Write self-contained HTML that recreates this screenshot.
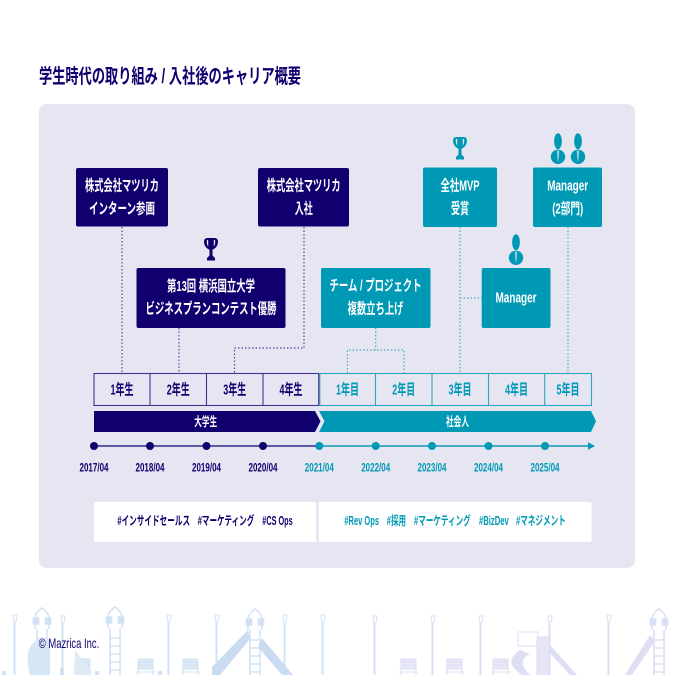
<!DOCTYPE html>
<html lang="ja"><head><meta charset="utf-8"><title>学生時代の取り組み / 入社後のキャリア概要</title>
<style>
html,body{margin:0;padding:0;background:#fff;width:675px;height:675px;overflow:hidden}
svg{display:block}
text{font-family:"Liberation Sans","Noto Sans CJK JP",sans-serif;font-weight:700;text-anchor:middle}
.n{fill:#10006f}.t{fill:#0099b5}.w{fill:#fff}
.b{font-size:15px}.d{font-size:12px}.g{font-size:12.5px}
.dn{stroke:#4f4a9a;stroke-width:1.2;stroke-dasharray:1.5 2;fill:none}
.dt{stroke:#48adc4;stroke-width:1.2;stroke-dasharray:1.5 2;fill:none}
</style></head><body>
<svg width="675" height="675" viewBox="0 0 675 675" xmlns="http://www.w3.org/2000/svg">
<defs>
<g id="trophy"><path d="M-3.500-11.500H3.500C5.800-11.500 7-10 7-8C7-4 4.500-.8 1.500 0.200V6L4 8.500V11H-4V8.500L-1.500 6V0.200C-4.500-.8-7-4-7-8C-7-10-5.800-11.500-3.500-11.500Z"/><path d="M-4-9.500C-4.500-7-4-4.500-2.800-3V-9.500ZM4-9.500C4.500-7 4-4.500 2.800-3V-9.500Z" fill="#e6e5f2"/></g>
<g id="person"><ellipse cx="0" cy="-8.300" rx="3.900" ry="8"/><circle cx="0" cy="7.300" r="7.200"/><path d="M-1.300 1h2.600L.7 9 0 12.500-.7 9z" fill="#8fcfdd"/></g>
<g id="post" fill="none"><path d="M-.5 10V70" stroke-width="2"/><path d="M-2 3h4l-.6 6h-2.800z" stroke-width="1"/></g>
<g id="bench" stroke-width="1"><rect x="0" y="0" width="15" height="10"/><path d="M0 3h15M0 6h15M0 10v12M15 10v12M-2 13h19" fill="none"/></g>
<g id="tower" fill="none" stroke-width="1.600"><path d="M-7 14V4C-7-3 0-7 0-7S7-3 7 4V14"/><path d="M-8.500 3h5v6h-5zM3.500 3h5v6h-5z" fill="#d0e1f4"/><path d="M-5 14V70M5 14V70M-5 24h10M-5 32h10M-5 40h10M-5 48h10M-5 56h10M-5 64h10"/></g>
</defs>
<g fill="#dbe8f6">
<g stroke="#d2e3f5">
<use href="#post" x="15" y="612"/><use href="#post" x="63" y="613"/>
<use href="#post" x="169" y="612"/><use href="#post" x="217" y="612"/>
<use href="#post" x="285" y="612"/><use href="#post" x="323" y="612"/>
<use href="#bench" x="138" y="659"/><use href="#bench" x="183" y="659"/><use href="#bench" x="75" y="659"/>
<use href="#tower" x="42" y="615"/><use href="#tower" x="115" y="614"/><use href="#tower" x="255" y="616"/>
</g>
<path d="M248 630 212 667v8h8l30-36z" fill="#cadcf2"/><path d="M262 638 293 675H282L258 647z" fill="#cadcf2"/>
<path d="M38 640C26 645 26 660 30 675H50V640z" fill="#d5e6f5"/>
<path d="M75 650 90 670v5H75z" fill="#dcebf6"/>
<rect x="60" y="668" width="4" height="7" fill="#cfe1f3"/><rect x="2" y="671" width="4" height="4" fill="#cfe1f3"/>
<rect x="95" y="671" width="4" height="4" fill="#cfe1f3"/><rect x="158" y="671" width="4" height="4" fill="#cfe1f3"/>
</g>
<g fill="#e8e8f7">
<g stroke="#dddef4">
<use href="#post" x="375" y="613"/><use href="#post" x="433" y="613"/>
<use href="#post" x="481" y="613"/><use href="#post" x="550" y="613"/><use href="#post" x="609" y="612"/>
<use href="#bench" x="401" y="659"/><use href="#bench" x="447" y="659"/><use href="#bench" x="493" y="659"/>
<use href="#tower" x="659" y="616"/>
<path d="M518 632h20v14h-20z" fill="none"/><rect x="537" y="637" width="12" height="38" fill="#e6e6f6"/>
</g>
<path d="M650 635 625 675h7l23-34z" fill="#dfdff4"/>
<path d="M550 645 577 675h-7l-22-24z" fill="#dfdff4"/>
<path d="M520 650C505 660 512 668 522 675h8C523 668 518 660 530 654z" fill="#dfdff4"/>
</g>
<rect x="39" y="104" width="596" height="464" rx="8" fill="#e6e5f2"/>
<text x="170" y="83" class="n" font-size="20" textLength="262" lengthAdjust="spacingAndGlyphs">学生時代の取り組み / 入社後のキャリア概要</text>
<path class="dn" d="M122 227V373M179 328V373M304 227V348H234.500V373"/>
<path class="dt" d="M375.700 328V350M347.500 373V350H404V373M460 227V373M460 298H482M568 227V373"/>
<rect x="76" y="168" width="92" height="58.500" rx="2" fill="#10006f"/>
<rect x="258" y="168" width="91" height="58.500" rx="2" fill="#10006f"/>
<rect x="136.500" y="268" width="149" height="60" rx="2" fill="#10006f"/>
<rect x="321" y="268" width="109.500" height="60" rx="2" fill="#0099b5"/>
<rect x="423" y="167.500" width="74" height="59.500" rx="2" fill="#0099b5"/>
<rect x="533" y="167.500" width="69" height="59.500" rx="2" fill="#0099b5"/>
<rect x="481.700" y="268" width="68.800" height="60" rx="2" fill="#0099b5"/>
<text class="b w" x="122" y="190.500" textLength="74" lengthAdjust="spacingAndGlyphs">株式会社マツリカ</text>
<text class="b w" x="122" y="213.500" textLength="66" lengthAdjust="spacingAndGlyphs">インターン参画</text>
<text class="b w" x="303.700" y="190.500" textLength="74" lengthAdjust="spacingAndGlyphs">株式会社マツリカ</text>
<text class="b w" x="303.700" y="213.500" textLength="18" lengthAdjust="spacingAndGlyphs">入社</text>
<text class="b w" x="211" y="291" textLength="88" lengthAdjust="spacingAndGlyphs">第13回 横浜国立大学</text>
<text class="b w" x="211" y="313.500" textLength="131" lengthAdjust="spacingAndGlyphs">ビジネスプランコンテスト優勝</text>
<text class="b w" x="375.500" y="290.500" textLength="92" lengthAdjust="spacingAndGlyphs">チーム / プロジェクト</text>
<text class="b w" x="375.500" y="313.500" textLength="56" lengthAdjust="spacingAndGlyphs">複数立ち上げ</text>
<text class="b w" x="460" y="190.500" textLength="39" lengthAdjust="spacingAndGlyphs">全社MVP</text>
<text class="b w" x="460" y="213.500" textLength="18" lengthAdjust="spacingAndGlyphs">受賞</text>
<text class="b w" x="567.700" y="190.500" textLength="41" lengthAdjust="spacingAndGlyphs">Manager</text>
<text class="b w" x="567.700" y="213.500" textLength="31" lengthAdjust="spacingAndGlyphs">(2部門)</text>
<text class="b w" x="516" y="302.500" textLength="41" lengthAdjust="spacingAndGlyphs">Manager</text>
<use href="#trophy" x="211" y="249.500" fill="#10006f"/>
<use href="#trophy" x="460" y="148.500" fill="#0099b5"/>
<use href="#person" x="516" y="250.500" fill="#0099b5"/>
<use href="#person" x="558" y="149.500" fill="#0099b5"/>
<use href="#person" x="578" y="149.500" fill="#0099b5"/>
<rect x="319.800" y="373.500" width="271.700" height="32" fill="none" stroke="#2fa6bf" stroke-width="1.100"/>
<path d="M375.500 373.500v32M432 373.500v32M488.500 373.500v32M544.700 373.500v32" stroke="#2fa6bf" stroke-width="1.100" fill="none"/>
<rect x="94" y="373.500" width="224.700" height="32" fill="none" stroke="#3d3590" stroke-width="1.100"/>
<path d="M150 373.500v32M206.500 373.500v32M263 373.500v32" stroke="#3d3590" stroke-width="1.100" fill="none"/>
<text class="b n" x="122" y="394.500" textLength="23" lengthAdjust="spacingAndGlyphs">1年生</text>
<text class="b n" x="178.300" y="394.500" textLength="23" lengthAdjust="spacingAndGlyphs">2年生</text>
<text class="b n" x="234.700" y="394.500" textLength="23" lengthAdjust="spacingAndGlyphs">3年生</text>
<text class="b n" x="291" y="394.500" textLength="23" lengthAdjust="spacingAndGlyphs">4年生</text>
<text class="b t" x="347.500" y="394.500" textLength="23" lengthAdjust="spacingAndGlyphs">1年目</text>
<text class="b t" x="403.700" y="394.500" textLength="23" lengthAdjust="spacingAndGlyphs">2年目</text>
<text class="b t" x="460" y="394.500" textLength="23" lengthAdjust="spacingAndGlyphs">3年目</text>
<text class="b t" x="516.500" y="394.500" textLength="23" lengthAdjust="spacingAndGlyphs">4年目</text>
<text class="b t" x="568" y="394.500" textLength="23" lengthAdjust="spacingAndGlyphs">5年目</text>
<path d="M94 411H315L320.500 421.300 315 432H94z" fill="#10006f"/>
<path d="M319 411H591L596 421.300 591 432H319L324.500 421.300z" fill="#0099b5"/>
<text class="g w" x="205.700" y="426" textLength="23" lengthAdjust="spacingAndGlyphs">大学生</text>
<text class="g w" x="457.500" y="426" textLength="23" lengthAdjust="spacingAndGlyphs">社会人</text>
<path d="M94 446H319" stroke="#4a4596" stroke-width="1.800"/>
<path d="M319 446H589" stroke="#2fa6bf" stroke-width="1.800"/>
<path d="M588 442.200 595 446l-7 3.800z" fill="#0099b5"/>
<g fill="#10006f"><circle cx="94" cy="446" r="4"/><circle cx="150" cy="446" r="4"/><circle cx="206.500" cy="446" r="4"/><circle cx="263" cy="446" r="4"/></g>
<g fill="#0099b5"><circle cx="319.300" cy="446" r="4"/><circle cx="375.700" cy="446" r="4"/><circle cx="432" cy="446" r="4"/><circle cx="488.500" cy="446" r="4"/><circle cx="545" cy="446" r="4"/></g>
<text class="d n" x="94" y="471.300" textLength="29" lengthAdjust="spacingAndGlyphs">2017/04</text>
<text class="d n" x="150" y="471.300" textLength="29" lengthAdjust="spacingAndGlyphs">2018/04</text>
<text class="d n" x="206.500" y="471.300" textLength="29" lengthAdjust="spacingAndGlyphs">2019/04</text>
<text class="d n" x="263" y="471.300" textLength="29" lengthAdjust="spacingAndGlyphs">2020/04</text>
<text class="d t" x="319.300" y="471.300" textLength="29" lengthAdjust="spacingAndGlyphs">2021/04</text>
<text class="d t" x="375.700" y="471.300" textLength="29" lengthAdjust="spacingAndGlyphs">2022/04</text>
<text class="d t" x="432" y="471.300" textLength="29" lengthAdjust="spacingAndGlyphs">2023/04</text>
<text class="d t" x="488.500" y="471.300" textLength="29" lengthAdjust="spacingAndGlyphs">2024/04</text>
<text class="d t" x="545" y="471.300" textLength="29" lengthAdjust="spacingAndGlyphs">2025/04</text>
<rect x="94" y="502" width="222" height="40" rx="1.500" fill="#fff"/>
<rect x="319" y="502" width="272.500" height="40" rx="1.500" fill="#fff"/>
<text class="g n" x="153.700" y="525.200" textLength="72.700" lengthAdjust="spacingAndGlyphs">#インサイドセールス</text>
<text class="g n" x="226" y="525.200" textLength="56.600" lengthAdjust="spacingAndGlyphs">#マーケティング</text>
<text class="g n" x="277.500" y="525.200" textLength="30.400" lengthAdjust="spacingAndGlyphs">#CS Ops</text>
<text class="g t" x="361.700" y="525.200" textLength="34.700" lengthAdjust="spacingAndGlyphs">#Rev Ops</text>
<text class="g t" x="396.400" y="525.200" textLength="19.300" lengthAdjust="spacingAndGlyphs">#採用</text>
<text class="g t" x="442.400" y="525.200" textLength="56.700" lengthAdjust="spacingAndGlyphs">#マーケティング</text>
<text class="g t" x="493.900" y="525.200" textLength="29.700" lengthAdjust="spacingAndGlyphs">#BizDev</text>
<text class="g t" x="540.900" y="525.200" textLength="49.700" lengthAdjust="spacingAndGlyphs">#マネジメント</text>
<text x="69" y="648" font-size="14" textLength="60.500" lengthAdjust="spacingAndGlyphs" style="font-weight:400;fill:#10006f">© Mazrica Inc.</text>
</svg>
</body></html>
